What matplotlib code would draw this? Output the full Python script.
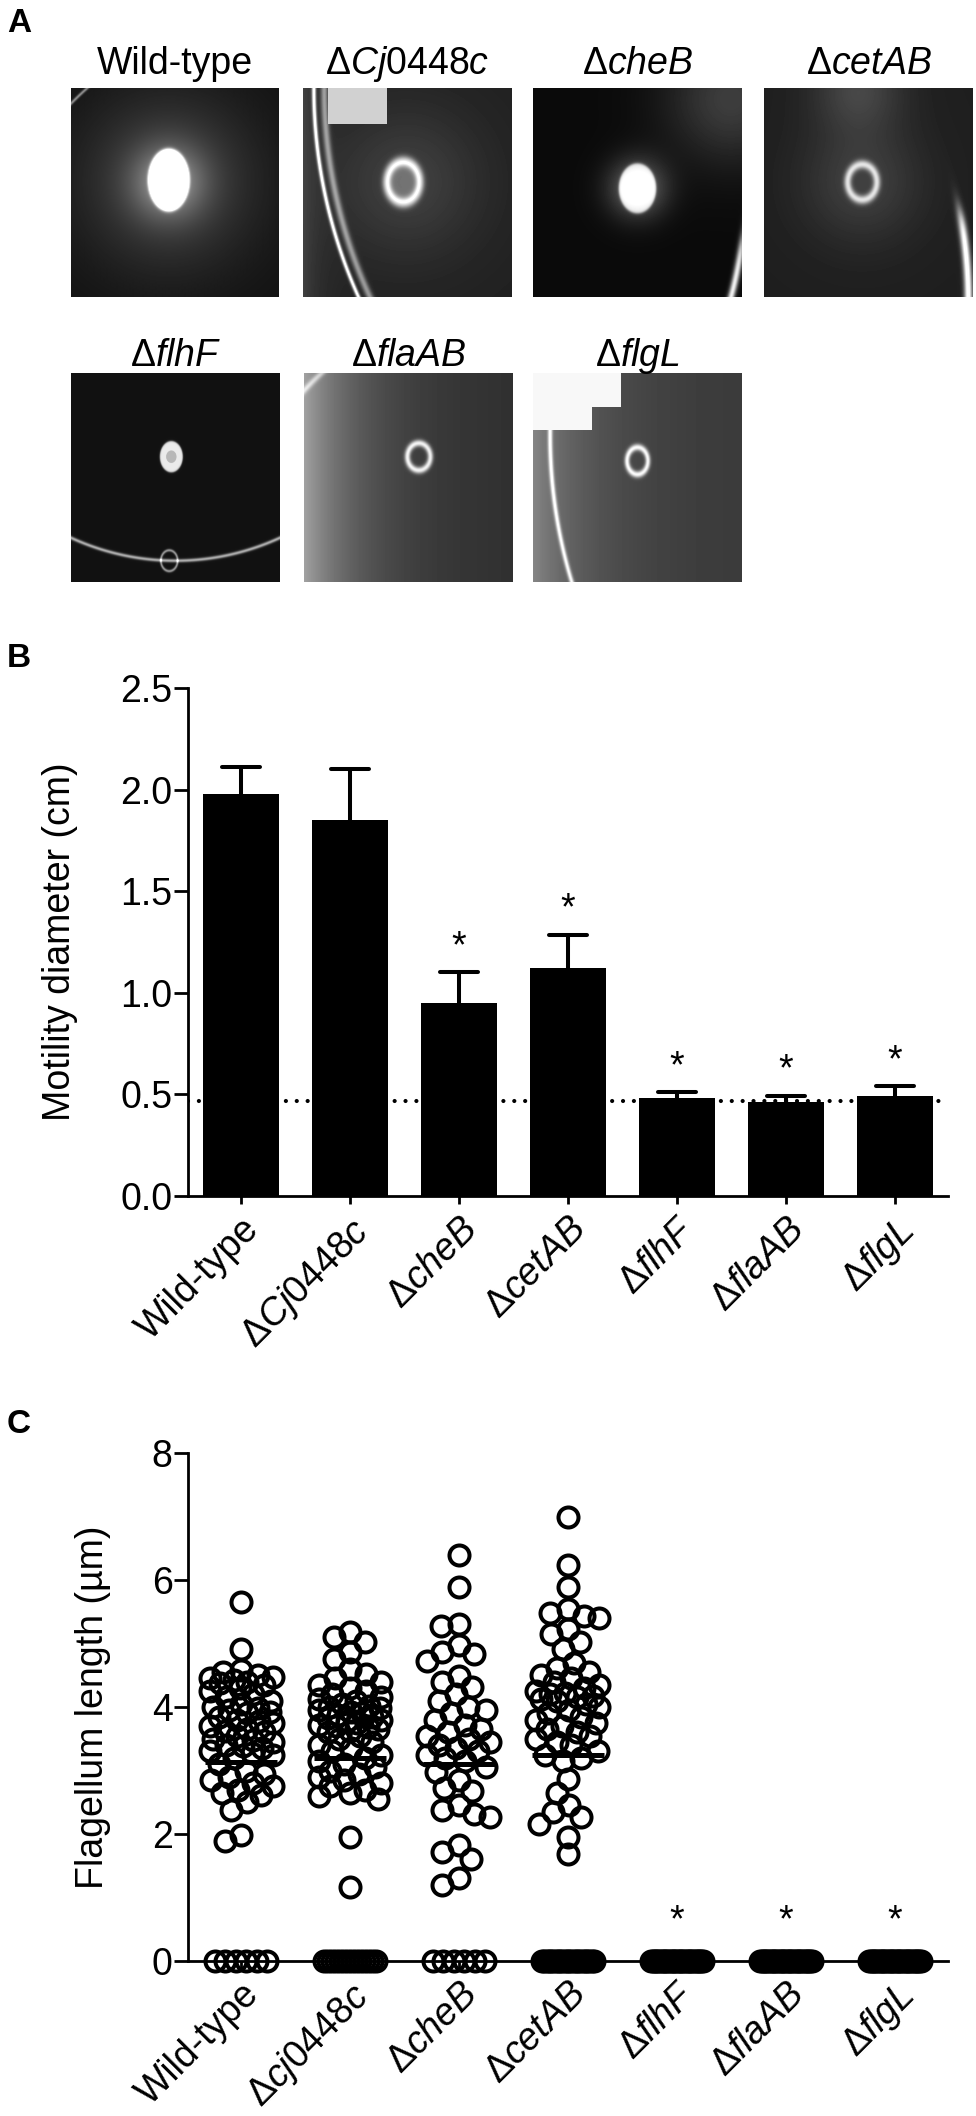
import numpy as np
import matplotlib
matplotlib.use("Agg")
import matplotlib.pyplot as plt

plt.rcParams['font.family'] = ['Liberation Sans', 'DejaVu Sans']
plt.rcParams['mathtext.fontset'] = 'custom'
plt.rcParams['mathtext.rm'] = 'Liberation Sans'
plt.rcParams['mathtext.it'] = 'Liberation Sans:italic'
plt.rcParams['mathtext.bf'] = 'Liberation Sans:bold'

# ---------------- data ----------------
photo_titles = ['Wild-type', r'$\Delta\mathit{Cj0448c}$', r'$\Delta\mathit{cheB}$', r'$\Delta\mathit{cetAB}$',
                r'$\Delta\mathit{flhF}$', r'$\Delta\mathit{flaAB}$', r'$\Delta\mathit{flgL}$']
strains_B = ['Wild-type', r'$\Delta\mathit{Cj0448c}$', r'$\Delta\mathit{cheB}$', r'$\Delta\mathit{cetAB}$',
             r'$\Delta\mathit{flhF}$', r'$\Delta\mathit{flaAB}$', r'$\Delta\mathit{flgL}$']
strains_C = ['Wild-type', r'$\Delta\mathit{cj0448c}$', r'$\Delta\mathit{cheB}$', r'$\Delta\mathit{cetAB}$',
             r'$\Delta\mathit{flhF}$', r'$\Delta\mathit{flaAB}$', r'$\Delta\mathit{flgL}$']

motility_mean = [1.98, 1.85, 0.95, 1.12, 0.48, 0.465, 0.49]
motility_sem = [0.13, 0.25, 0.15, 0.165, 0.03, 0.027, 0.05]
motility_threshold = 0.468
sig_B = [False, False, True, True, True, True, True]

len_wt = [5.66, 4.91, 4.58, 4.55, 4.50, 4.48, 4.45, 4.42, 4.40, 4.38, 4.35, 4.30, 4.25, 4.20,
          4.15, 4.10, 4.05, 4.00, 3.98, 3.95, 3.92, 3.90, 3.85, 3.80, 3.78, 3.75, 3.70, 3.65,
          3.62, 3.60, 3.55, 3.50, 3.48, 3.45, 3.40, 3.38, 3.35, 3.30, 3.28, 3.25, 3.20, 3.10,
          3.00, 2.95, 2.90, 2.85, 2.80, 2.75, 2.70, 2.65, 2.62, 2.50, 2.38, 1.99, 1.89]
len_cj = [5.18, 5.10, 5.02, 4.87, 4.76, 4.60, 4.52, 4.45, 4.40, 4.35, 4.30, 4.25, 4.20, 4.15,
          4.12, 4.10, 4.05, 4.02, 4.00, 3.98, 3.95, 3.92, 3.90, 3.88, 3.85, 3.82, 3.80, 3.78,
          3.75, 3.72, 3.70, 3.68, 3.65, 3.62, 3.60, 3.55, 3.50, 3.45, 3.40, 3.35, 3.30, 3.25,
          3.20, 3.15, 3.10, 3.05, 3.00, 2.95, 2.90, 2.85, 2.80, 2.75, 2.70, 2.65, 2.60, 2.55,
          1.95, 1.16]
len_cheb = [6.40, 5.89, 5.31, 5.28, 4.97, 4.86, 4.84, 4.73, 4.49, 4.40, 4.31, 4.20, 4.10, 4.00,
            3.95, 3.90, 3.80, 3.72, 3.65, 3.60, 3.55, 3.50, 3.45, 3.40, 3.35, 3.30, 3.25, 3.20,
            3.15, 3.05, 2.97, 2.85, 2.72, 2.68, 2.45, 2.38, 2.32, 2.27, 1.82, 1.71, 1.61, 1.30, 1.20]
len_cetab = [6.99, 6.23, 5.89, 5.54, 5.48, 5.44, 5.40, 5.23, 5.15, 5.02, 4.92, 4.70, 4.62, 4.55,
             4.50, 4.45, 4.40, 4.35, 4.30, 4.25, 4.22, 4.20, 4.18, 4.15, 4.12, 4.10, 4.05, 4.00,
             3.95, 3.90, 3.85, 3.80, 3.75, 3.70, 3.65, 3.60, 3.55, 3.50, 3.45, 3.40, 3.30, 3.25,
             3.20, 3.15, 2.87, 2.65, 2.45, 2.34, 2.26, 2.16, 1.95, 1.68]
len_flhf = []
len_flaab = []
len_flgl = []
zero_counts = [6, 14, 6, 24, 30, 30, 30]
length_means = [3.14, 3.20, 3.10, 3.24, 0.0, 0.0, 0.0]
sig_C = [False, False, False, False, True, True, True]

# ---------------- layout helpers ----------------
W, H = 976, 2116
fig = plt.figure(figsize=(W / 100, H / 100), dpi=100)


def rect(x0, y0, x1, y1):
    return [x0 / W, 1 - y1 / H, (x1 - x0) / W, (y1 - y0) / H]


FS = 27
LW_AX = 2.0

# ---------------- panel A: plate photos (synthetic) ----------------
n = 209
yy, xx = np.mgrid[0:n, 0:n] / (n - 1.0)


def gauss(cx, cy, s, a):
    return a * np.exp(-((xx - cx) ** 2 + (yy - cy) ** 2) / (2 * s * s))


def disk(cx, cy, rx, ry, a, k=30):
    r = np.sqrt(((xx - cx) / rx) ** 2 + ((yy - cy) / ry) ** 2)
    return a / (1 + np.exp((r - 1) * k))


def ring(cx, cy, rx, ry, a, w=0.18):
    r = np.sqrt(((xx - cx) / rx) ** 2 + ((yy - cy) / ry) ** 2)
    return a * np.exp(-((r - 1) ** 2) / (2 * w * w))


def arc(cx, cy, R, w, a):
    d = np.sqrt((xx - cx) ** 2 + (yy - cy) ** 2)
    return a * np.exp(-((d - R) ** 2) / (2 * w * w))


def soft(v, k=25):
    return 1.0 / (1.0 + np.exp(-v * k))


def photo(kind):
    if kind == 0:
        img = 0.07 + gauss(0.47, 0.45, 0.30, 0.2) + gauss(0.47, 0.45, 0.12, 0.35) \
            + disk(0.47, 0.44, 0.1, 0.15, 1.0) + arc(1.0, 1.05, 1.4, 0.005, 0.45)
    elif kind == 1:
        img = 0.13 + gauss(0.5, 0.45, 0.25, 0.12) + ring(0.48, 0.45, 0.08, 0.1, 0.65) \
            + disk(0.48, 0.45, 0.08, 0.1, 0.2) + arc(2.5, 0.0, 2.45, 0.007, 0.9) \
            + arc(2.5, 0.0, 2.40, 0.012, 0.45) + 0.12 * np.exp(-xx / 0.08)
        img[(xx > 0.12) & (xx < 0.4) & (yy < 0.17)] = 0.82
    elif kind == 2:
        edge = arc(-1.025, 0.475, 2.044, 0.012, 0.9) * soft(yy - 0.72)
        img = 0.04 + gauss(0.5, 0.48, 0.1, 0.35) + disk(0.5, 0.48, 0.09, 0.12, 0.7) \
            + gauss(0.95, 0.05, 0.22, 0.2) + edge
    elif kind == 3:
        edge = arc(-1.245, 1.017, 2.225, 0.014, 0.95) * soft(yy - 0.6)
        img = 0.12 + gauss(0.47, 0.45, 0.2, 0.13) + ring(0.47, 0.45, 0.07, 0.085, 0.65) \
            + gauss(0.45, 0.0, 0.15, 0.15) + edge
    elif kind == 4:
        img = 0.07 + disk(0.48, 0.4, 0.055, 0.075, 0.85) + disk(0.48, 0.4, 0.025, 0.03, -0.2) \
            + arc(0.5, -0.3, 1.2, 0.006, 0.6) + ring(0.47, 0.9, 0.04, 0.05, 0.5, 0.1)
    elif kind == 5:
        img = 0.18 + 0.45 * np.exp(-xx / 0.28) + ring(0.55, 0.4, 0.055, 0.065, 0.7) \
            + arc(1.1, 1.1, 1.5, 0.01, 0.3)
    else:
        img = 0.22 + 0.3 * np.exp(-xx / 0.3) + ring(0.5, 0.42, 0.05, 0.065, 0.7) \
            + arc(2.5, 0.3, 2.42, 0.008, 0.6)
        img[(xx < 0.42) & (yy < 0.16)] = 0.97
        img[(xx < 0.28) & (yy < 0.27)] = 0.97
    return np.clip(img, 0, 1)


photo_rects = [(71, 88, 279, 297), (303, 88, 512, 297), (533, 88, 742, 297), (764, 88, 973, 297),
               (71, 373, 280, 582), (304, 373, 513, 582), (533, 373, 742, 582)]
title_base = [74, 74, 74, 74, 366, 366, 366]
for i, (r, t) in enumerate(zip(photo_rects, photo_titles)):
    a = fig.add_axes(rect(*r))
    a.imshow(photo(i), cmap='gray', vmin=0, vmax=1, aspect='auto', interpolation='bilinear')
    a.set_axis_off()
    fig.text((r[0] + r[2]) / 2 / W, 1 - title_base[i] / H, t, ha='center', va='baseline', fontsize=FS)

for lab, yb in [('A', 32), ('B', 667), ('C', 1433)]:
    fig.text(7 / W, 1 - yb / H, lab, fontsize=24, fontweight='bold', ha='left', va='baseline')


def style_axes(ax):
    for s in ['top', 'right']:
        ax.spines[s].set_visible(False)
    for s in ['left', 'bottom']:
        ax.spines[s].set_linewidth(LW_AX)
    ax.tick_params(axis='y', length=10, width=LW_AX, pad=1, labelsize=FS, direction='out')
    ax.tick_params(axis='x', length=6, width=LW_AX, pad=5, labelsize=FS, direction='out')
    ax.set_xlim((188 - 241) / 109, (948 - 241) / 109)


# ---------------- panel B ----------------
axB = fig.add_axes(rect(188, 688, 948, 1196))
style_axes(axB)
xb = np.arange(len(strains_B))
axB.axhline(motility_threshold, color='k', lw=3.0, linestyle=(0, (0.01, 2.6)),
            dash_capstyle='round', zorder=1)
axB.bar(xb, motility_mean, width=0.706, color='k', zorder=2)
tops = np.array(motility_mean) + np.array(motility_sem)
axB.vlines(xb, motility_mean, tops, color='k', lw=2.9, zorder=3)
axB.hlines(tops, xb - 0.178, xb + 0.178, color='k', lw=2.9, zorder=3, capstyle='round')
for xi, t, s in zip(xb, tops, sig_B):
    if s:
        axB.text(xi, t + 0.075, '*', ha='center', va='baseline', fontsize=FS)
axB.set_ylim(0, 2.5)
axB.set_yticks([0, 0.5, 1.0, 1.5, 2.0, 2.5])
axB.set_yticklabels(['0.0', '0.5', '1.0', '1.5', '2.0', '2.5'])
axB.set_xticks(xb)
axB.set_xticklabels(strains_B, rotation=45, ha='right', va='top', rotation_mode='anchor')
axB.set_ylabel('Motility diameter (cm)', fontsize=FS)
axB.yaxis.set_label_coords((78 - 188) / 760, 0.5)

# ---------------- panel C ----------------
axC = fig.add_axes(rect(188, 1453, 948, 1961))
style_axes(axC)
PXU_Y = (1961 - 1453) / 8.0
PXU_X = 109.0


def swarm(vals, min_d=17.0, max_w=32.0, step=1.5):
    ypx = np.asarray(vals, dtype=float) * PXU_Y
    cands = [0.0]
    for k in np.arange(step, max_w + 1e-6, step):
        cands += [-k, k]
    px, py, out = [], [], []
    for y in ypx:
        best, bestd = 0.0, -1.0
        for c in cands:
            if px:
                dd = np.min(np.hypot(np.array(px) - c, np.array(py) - y))
            else:
                dd = np.inf
            if dd >= min_d:
                best = c
                break
            if dd > bestd:
                bestd, best = dd, c
        px.append(best)
        py.append(y)
        out.append(best)
    return np.array(out) / PXU_X


groups = [len_wt, len_cj, len_cheb, len_cetab, len_flhf, len_flaab, len_flgl]
for gi, (vals, nz) in enumerate(zip(groups, zero_counts)):
    if len(vals):
        offs = swarm(vals)
        axC.plot(gi + offs, vals, 'o', mfc='none', mec='k', ms=14.4, mew=2.9, clip_on=False, zorder=3)
    zoffs = np.linspace(-26, 26, nz) / PXU_X if nz > 1 else np.zeros(nz)
    axC.plot(gi + zoffs, np.zeros(nz), 'o', mfc='none', mec='k', ms=14.4, mew=2.9, clip_on=False, zorder=3)
    axC.hlines(length_means[gi], gi - 0.33, gi + 0.33, color='k', lw=3.6, zorder=4)
    if sig_C[gi]:
        axC.text(gi, 0.47, '*', ha='center', va='baseline', fontsize=FS)
axC.set_ylim(0, 8)
axC.set_yticks([0, 2, 4, 6, 8])
axC.set_xticks(np.arange(len(strains_C)))
axC.set_xticklabels(strains_C, rotation=45, ha='right', va='top', rotation_mode='anchor')
axC.set_ylabel('Flagellum length (\u00b5m)', fontsize=FS)
axC.yaxis.set_label_coords((111 - 188) / 760, 0.5)

fig.savefig('out.png', dpi=100)
